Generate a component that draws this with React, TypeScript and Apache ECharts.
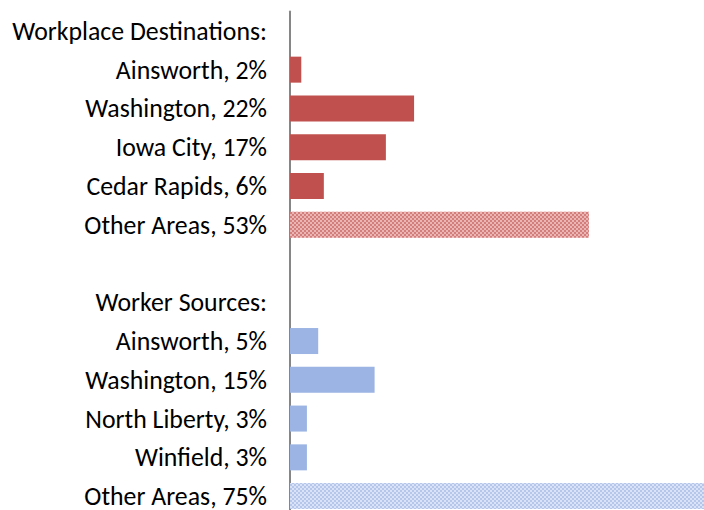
import React, { useEffect, useRef } from "react";
import * as echarts from "echarts";

const destHeader = "Workplace Destinations:";
const destNames = ["Ainsworth", "Washington", "Iowa City", "Cedar Rapids", "Other Areas"];
const destValues = [2, 22, 17, 6, 53];
const srcHeader = "Worker Sources:";
const srcNames = ["Ainsworth", "Washington", "North Liberty", "Winfield", "Other Areas"];
const srcValues = [5, 15, 3, 3, 75];

const RED = "#C0504D";
const BLUE = "#9BB4E3";

function checker(base: string, light: string) {
  return {
    color: light,
    decal: {
      symbol: "rect",
      symbolSize: 1,
      color: base,
      dashArrayX: [[2, 2], [0, 2, 2, 0]],
      dashArrayY: [2, 0],
      rotation: 0,
    },
  };
}

export default function App() {
  const ref = useRef<HTMLDivElement>(null);
  useEffect(() => {
    if (!ref.current) return;
    const chart = echarts.init(ref.current, null, { renderer: "svg" });
    const categories: string[] = [];
    const data: any[] = [];
    categories.push(destHeader);
    data.push(null);
    destNames.forEach((n, i) => {
      categories.push(`${n}, ${destValues[i]}%`);
      const other = i === destNames.length - 1;
      data.push({
        value: destValues[i],
        itemStyle: other ? checker("rgba(192,80,77,0.55)", "#EBB5B3") : { color: RED },
      });
    });
    categories.push(" ");
    data.push(null);
    categories.push(srcHeader);
    data.push(null);
    srcNames.forEach((n, i) => {
      categories.push(`${n}, ${srcValues[i]}%`);
      const other = i === srcNames.length - 1;
      data.push({
        value: srcValues[i],
        itemStyle: other ? checker("rgba(155,180,227,0.6)", "#DAE3F5") : { color: BLUE },
      });
    });

    chart.setOption({
      animation: false,
      grid: {
        left: 290,
        top: 11.5,
        width: 564,
        height: 504,
        containLabel: false,
        outerBoundsMode: "none",
      },
      xAxis: {
        type: "value",
        min: 0,
        max: 100,
        show: false,
      },
      yAxis: {
        type: "category",
        inverse: true,
        data: categories,
        axisLine: { show: true, lineStyle: { color: "#868686", width: 2 } },
        axisTick: { show: false },
        axisLabel: {
          fontSize: 25.8,
          color: "#000",
          margin: 23,
          fontFamily: "Carlito, Lato, sans-serif",
        },
      },
      series: [
        {
          type: "bar",
          data,
          barWidth: 26,
          clip: true,
        },
      ],
    });
    return () => chart.dispose();
  }, []);
  return <div ref={ref} style={{ width: 704, height: 510, position: "absolute", left: 0, top: 0 }} />;
}
